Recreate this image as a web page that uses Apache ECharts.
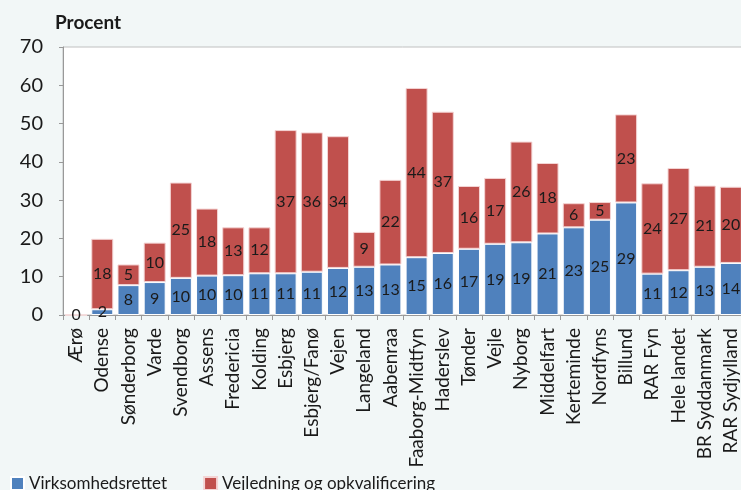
<!DOCTYPE html>
<html><head><meta charset="utf-8">
<script src="https://cdn.jsdelivr.net/npm/echarts@6/dist/echarts.min.js"></script>
<style>html,body{margin:0;padding:0;background:#f2f7f7;}#c{width:741px;height:490px;}</style>
</head><body><div id="c"></div>
<script>
const categories = ["Ærø","Odense","Sønderborg","Varde","Svendborg","Assens","Fredericia","Kolding","Esbjerg","Esbjerg/Fanø","Vejen","Langeland","Aabenraa","Faaborg-Midtfyn","Haderslev","Tønder","Vejle","Nyborg","Middelfart","Kerteminde","Nordfyns","Billund","RAR Fyn","Hele landet","BR Syddanmark","RAR Sydjylland"];
const virksomhedsrettet = [0,1.5,7.8,8.6,9.7,10.3,10.4,10.9,10.9,11.3,12.3,12.6,13.2,15.1,16.2,17.3,18.6,19.0,21.3,22.9,24.9,29.4,10.8,11.7,12.6,13.6];
const vejledning = [0,18.4,5.4,10.3,24.9,17.5,12.5,12.0,37.4,36.4,34.4,9.1,22.1,44.2,36.9,16.4,17.2,26.3,18.4,6.3,4.6,23.0,23.6,26.7,21.2,19.9];
const yTicks = {min:0, max:70, interval:10};

const font = "Lato, 'Open Sans', sans-serif";
const chart = echarts.init(document.getElementById('c'));
const lbl = (hideZero) => ({
  show: true, position: 'inside', fontFamily: font, fontSize: 16, color: '#1a1a1a',
  formatter: p => (hideZero && p.value === 0) ? '' : String(Math.round(p.value))
});
chart.setOption({
  backgroundColor: '#f2f7f7',
  animation: false,
  title: {text: 'Procent', left: 50, top: 8, textStyle: {fontFamily: font, fontSize: 19, fontWeight: 'bold', color: '#1a1a1a'}},
  grid: {left: 63, top: 47, width: 681, height: 268, show: true, backgroundColor: '#ffffff', borderColor: '#c0c0c0', borderWidth: 1, outerBoundsMode: 'none', containLabel: false},
  legend: {
    left: 5, top: 470, itemWidth: 13, itemHeight: 13, itemGap: 36, icon: 'rect',
    textStyle: {fontFamily: font, fontSize: 17, color: '#1a1a1a'},
    data: ['Virksomhedsrettet', 'Vejledning og opkvalificering']
  },
  xAxis: {
    type: 'category', data: categories,
    axisLine: {lineStyle: {color: '#999999'}},
    axisTick: {show: true, length: 5, lineStyle: {color: '#999999'}},
    axisLabel: {interval: 0, rotate: 90, margin: 13, fontFamily: font, fontSize: 19, color: '#1a1a1a'}
  },
  yAxis: {
    type: 'value', min: yTicks.min, max: yTicks.max, interval: yTicks.interval,
    splitLine: {show: false},
    axisLine: {show: true, lineStyle: {color: '#999999'}},
    axisTick: {show: true, length: 4, lineStyle: {color: '#999999'}},
    axisLabel: {margin: 20, fontFamily: font, fontSize: 20, color: '#1a1a1a'}
  },
  series: [
    {name: 'Virksomhedsrettet', type: 'bar', stack: 't', data: virksomhedsrettet, barCategoryGap: '16%',
     itemStyle: {color: '#4f81bd', borderColor: '#ffffff', borderWidth: 1}, label: lbl(false)},
    {name: 'Vejledning og opkvalificering', type: 'bar', stack: 't', data: vejledning, barCategoryGap: '16%',
     itemStyle: {color: '#c0504d', borderColor: '#f4d4d4', borderWidth: 1}, label: lbl(true)}
  ]
});
</script></body></html>
